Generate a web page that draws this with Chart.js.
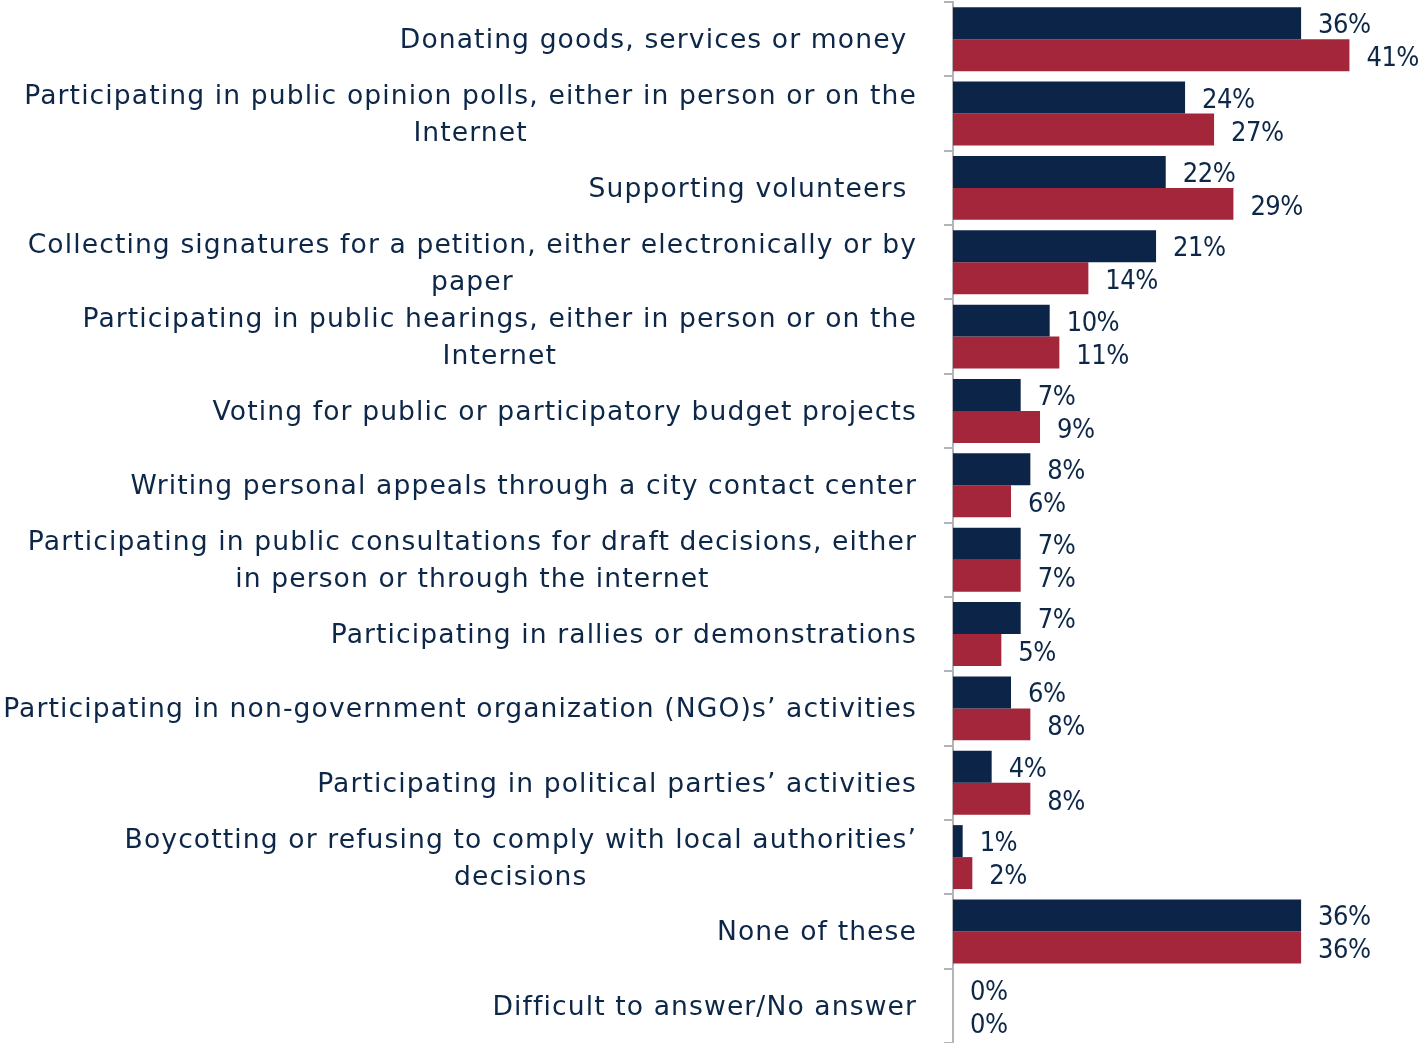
<!DOCTYPE html>
<html>
<head>
<meta charset="utf-8">
<script src="https://cdn.jsdelivr.net/npm/chart.js@4/dist/chart.umd.min.js"></script>
<style>
    html, body { margin: 0; padding: 0; background: #fff; }
    #wrap { width: 1421px; height: 1043px; position: relative; }
</style>
</head>
<body>
<div id="wrap"><canvas id="chart"></canvas></div>
<script>
const categories = [
    ["Donating goods, services or money "],
    ["Participating in public opinion polls, either in person or on the", "Internet"],
    ["Supporting volunteers "],
    ["Collecting signatures for a petition, either electronically or by", "paper"],
    ["Participating in public hearings, either in person or on the", "Internet"],
    ["Voting for public or participatory budget projects"],
    ["Writing personal appeals through a city contact center"],
    ["Participating in public consultations for draft decisions, either", "in person or through the internet"],
    ["Participating in rallies or demonstrations"],
    ["Participating in non-government organization (NGO)s\u2019 activities"],
    ["Participating in political parties\u2019 activities"],
    ["Boycotting or refusing to comply with local authorities\u2019", "decisions"],
    ["None of these"],
    ["Difficult to answer/No answer"]
];
const seriesNavy = [36, 24, 22, 21, 10, 7, 8, 7, 7, 6, 4, 1, 36, 0];
const seriesRed = [41, 27, 29, 14, 11, 9, 6, 7, 5, 8, 8, 2, 36, 0];

const NAVY = '#0c2447';
const RED = '#a3263a';
const TEXT = '#0d2748';
const AXIS_X = 953;

const labelPlugin = {
    id: 'labelPlugin',
    afterDatasetsDraw(chart) {
        const c = chart.ctx;
        const yScale = chart.scales.y;
        // category labels, lines centred on each other, block right aligned
        c.save();
        c.fillStyle = TEXT;
        c.font = '26.6px "DejaVu Sans", sans-serif';
        c.letterSpacing = '1.1px';
        c.textBaseline = 'middle';
        c.textAlign = 'center';
        const right = 917;
        const lineH = 37;
        categories.forEach((lines, i) => {
            const y = yScale.getPixelForTick(i) + 2;
            const w = Math.max(...lines.map(l => c.measureText(l).width));
            const cx = right - w / 2;
            const top = y - (lines.length - 1) * lineH / 2;
            lines.forEach((l, j) => c.fillText(l, cx, top + j * lineH));
        });
        // value labels
        c.font = '27px "DejaVu Sans Condensed", sans-serif';
        c.letterSpacing = '-0.5px';
        c.textAlign = 'left';
        chart.data.datasets.forEach((ds, di) => {
            const meta = chart.getDatasetMeta(di);
            meta.data.forEach((bar, i) => {
                c.fillText(ds.data[i] + '%', bar.x + 17, bar.y + 3 + di);
            });
        });
        c.restore();
    }
};

new Chart(document.querySelector('#chart').getContext('2d'), {
    type: 'bar',
    data: {
        labels: categories,
        datasets: [
            { label: 'navy', data: seriesNavy, backgroundColor: NAVY, categoryPercentage: 0.86, barPercentage: 1 },
            { label: 'red', data: seriesRed, backgroundColor: RED, categoryPercentage: 0.86, barPercentage: 1 }
        ]
    },
    options: {
        indexAxis: 'y',
        responsive: true,
        maintainAspectRatio: false,
        animation: false,
        layout: { padding: { top: 2, bottom: 0, left: 0, right: 0 } },
        plugins: {
            legend: { display: false },
            tooltip: { enabled: false }
        },
        scales: {
            x: {
                display: false,
                min: 0,
                max: 48.4
            },
            y: {
                afterFit: (scale) => { scale.width = AXIS_X; },
                ticks: { display: false },
                grid: {
                    offset: true,
                    drawOnChartArea: false,
                    drawTicks: true,
                    tickLength: 9,
                    color: '#b3b3b8',
                    lineWidth: 2
                },
                border: { color: '#b3b3b8', width: 2 }
            }
        }
    },
    plugins: [labelPlugin]
});
</script>
</body>
</html>
